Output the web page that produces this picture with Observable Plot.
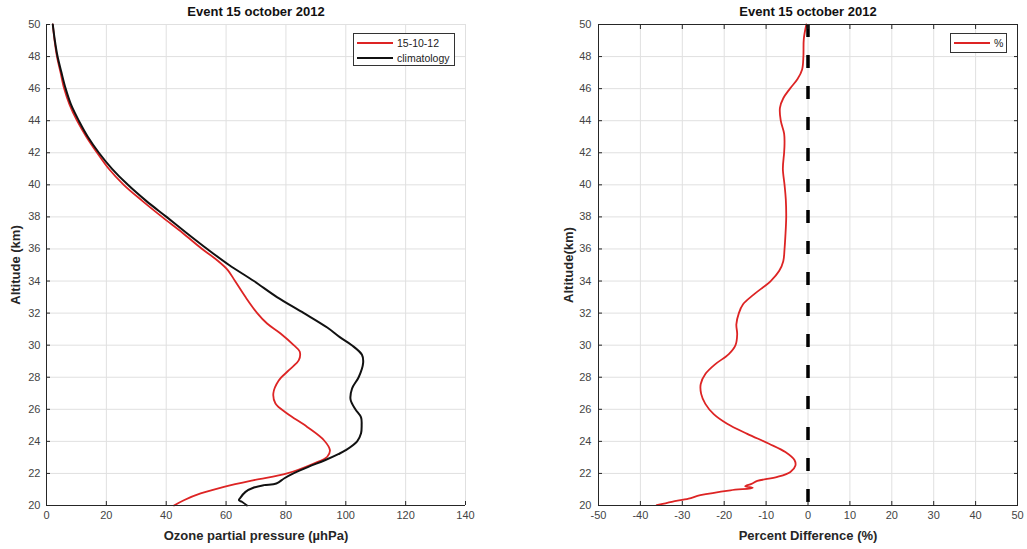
<!DOCTYPE html>
<html>
<head>
<meta charset="utf-8">
<script src="https://cdn.jsdelivr.net/npm/d3@7"></script>
<script src="https://cdn.jsdelivr.net/npm/@observablehq/plot@0.6"></script>
<style>
  html, body { margin: 0; padding: 0; background: #fff; }
  #wrap { position: relative; width: 1027px; height: 549px; overflow: hidden; background: #fff;
          font-family: "Liberation Sans", Arial, sans-serif; color: #000; }
  .panel { position: absolute; top: 0; }
  .title { position: absolute; top: 4px; font-weight: bold; font-size: 13px; transform: translateX(-50%); white-space: nowrap; color: #111; }
  .xlab { position: absolute; top: 528px; font-weight: bold; font-size: 13px; transform: translateX(-50%); white-space: nowrap; color: #262626; }
  .ylab { position: absolute; font-weight: bold; font-size: 13px; white-space: nowrap; color: #262626;
          transform: translate(-50%, -50%) rotate(-90deg); }
  .legend { position: absolute; border: 1px solid #333; background: #fff; font-size: 10.5px; color: #222; }
  .legend .row { display: flex; align-items: center; height: 15px; }
  .legend svg { display: block; margin-right: 3px; }
</style>
</head>
<body>
<div id="wrap"></div>
<script>
// ---------- data ----------
// Event profile 15-10-12 (altitude km, ozone partial pressure µhPa)
const altEvent = [20.0, 20.33, 20.75, 21.16, 21.58, 22.0, 22.62, 23.04, 23.45, 24.07, 24.9, 25.74, 26.36, 27.0, 27.8, 28.44, 29.06, 29.6, 30.0, 30.73, 31.35, 32.0, 33.0, 34.0, 34.7, 35.3, 36.0, 37.0, 38.0, 39.0, 40.0, 41.0, 42.0, 43.0, 44.0, 45.0, 46.0, 47.0, 48.0, 49.0, 50.0];
const o3Event  = [42.6, 45.9, 51.5, 59.3, 69.3, 80.4, 89.3, 93.8, 94.7, 92.7, 87.1, 80.4, 76.5, 75.8, 77.6, 81.0, 84.3, 84.6, 82.6, 78.2, 73.7, 70.4, 66.5, 63.0, 60.5, 57.0, 52.0, 45.5, 38.6, 32.0, 25.8, 20.8, 16.9, 13.3, 10.2, 7.7, 5.9, 4.7, 3.5, 2.7, 2.1];

// Climatology profile
const altClim = [20.0, 20.22, 20.33, 20.44, 20.85, 21.12, 21.27, 21.37, 21.7, 22.0, 22.41, 22.82, 23.2, 23.45, 24.0, 24.5, 25.0, 25.5, 26.0, 26.6, 27.3, 28.0, 28.9, 29.4, 30.0, 30.5, 31.1, 32.0, 33.0, 34.0, 35.0, 36.0, 37.0, 38.0, 39.0, 40.0, 41.0, 42.0, 43.0, 44.0, 45.0, 46.0, 47.0, 48.0, 49.0, 50.0];
const o3Clim  = [67.0, 65.4, 64.3, 64.6, 66.5, 69.3, 72.6, 76.8, 79.5, 82.5, 87.5, 93.0, 97.5, 100.0, 103.8, 105.1, 105.3, 105.1, 103.2, 101.6, 102.1, 104.3, 105.8, 105.4, 102.0, 98.0, 93.8, 86.0, 77.0, 69.3, 61.0, 53.7, 46.8, 40.1, 33.3, 27.2, 21.9, 17.5, 13.8, 10.8, 8.2, 6.4, 5.0, 3.7, 2.8, 2.1];

// Percent difference profile
const altPct  = [20.02, 20.23, 20.43, 20.64, 20.95, 21.10, 21.2, 21.35, 21.53, 21.78, 22.09, 22.5, 22.82, 23.33, 23.85, 24.47, 25.1, 25.7, 26.34, 26.96, 27.58, 28.2, 28.82, 29.44, 30.0, 30.68, 31.3, 32.0, 32.55, 33.17, 34.0, 34.62, 35.24, 36.0, 36.8, 38.0, 39.1, 40.0, 41.0, 42.0, 42.6, 43.2, 44.0, 44.8, 45.4, 46.0, 46.6, 47.2, 48.0, 49.1, 50.0];
const pctDiff = [-36.1, -32.5, -28.5, -25.7, -18.5, -13.2, -15.0, -13.5, -12.1, -7.3, -4.2, -3.0, -3.2, -5.4, -9.3, -14.5, -19.3, -22.5, -24.5, -25.5, -25.6, -24.5, -22.1, -18.9, -17.3, -16.9, -17.1, -16.5, -15.5, -12.9, -8.9, -6.9, -5.9, -5.6, -5.4, -5.2, -5.3, -5.6, -6.0, -5.7, -5.6, -5.7, -6.5, -6.7, -5.9, -4.3, -2.5, -1.4, -1.1, -1.0, -0.4];

// Axes / ticks
const yDomain = [20, 50];
const yTicks = [20, 22, 24, 26, 28, 30, 32, 34, 36, 38, 40, 42, 44, 46, 48, 50];
const xDomainL = [0, 140];
const xTicksL = [0, 20, 40, 60, 80, 100, 120, 140];
const xDomainR = [-50, 50];
const xTicksR = [-50, -40, -30, -20, -10, 0, 10, 20, 30, 40, 50];
const zeroLine = [0];

const titleText = "Event 15 october 2012";
const legendLeft = ["15-10-12", "climatology"];
const legendRight = ["%"];

// ---------- build ----------
const RED = "#dd2424";
const INK = "#262626";
const GRID = "#e0e0e0";
const fmt = d => String(d);   // plain hyphen-minus as in the original

const eventRows = altEvent.map((a, i) => ({alt: a, v: o3Event[i]}));
const climRows  = altClim.map((a, i) => ({alt: a, v: o3Clim[i]}));
const pctRows   = altPct.map((a, i) => ({alt: a, v: pctDiff[i]}));

const baseStyle = {fontFamily: "'Liberation Sans', Arial, sans-serif", fontSize: "11px", color: "#444", background: "transparent", overflow: "visible"};

const left = Plot.plot({
  width: 500, height: 549,
  marginLeft: 46, marginRight: 35, marginTop: 24, marginBottom: 44,
  style: baseStyle,
  x: {domain: xDomainL},
  y: {domain: yDomain},
  marks: [
    Plot.gridX(xTicksL, {stroke: GRID, strokeOpacity: 1}),
    Plot.gridY(yTicks, {stroke: GRID, strokeOpacity: 1}),
    Plot.line(eventRows, {x: "v", y: "alt", stroke: RED, strokeWidth: 1.8, curve: "catmull-rom"}),
    Plot.line(climRows, {x: "v", y: "alt", stroke: "#111", strokeWidth: 2, curve: "catmull-rom"}),
    Plot.ruleY([yDomain[0]], {stroke: INK}),
    Plot.ruleX([xDomainL[0]], {stroke: INK}),
    Plot.axisX(xTicksL, {tickSize: -4, tickPadding: 10, tickFormat: fmt, label: null, stroke: INK}),
    Plot.axisY(yTicks, {tickSize: -4, tickPadding: 10, tickFormat: fmt, label: null, stroke: INK})
  ]
});

const right = Plot.plot({
  width: 507, height: 549,
  marginLeft: 78, marginRight: 10, marginTop: 24, marginBottom: 44,
  style: baseStyle,
  x: {domain: xDomainR},
  y: {domain: yDomain},
  marks: [
    Plot.gridX(xTicksR, {stroke: GRID, strokeOpacity: 1}),
    Plot.gridY(yTicks, {stroke: GRID, strokeOpacity: 1}),
    Plot.line(pctRows, {x: "v", y: "alt", stroke: RED, strokeWidth: 1.8, curve: "catmull-rom"}),
    Plot.ruleX(zeroLine, {stroke: "#000", strokeWidth: 3.5, strokeDasharray: "13,18"}),
    Plot.frame({stroke: INK}),
    Plot.axisX(xTicksR, {tickSize: -4, tickPadding: 10, tickFormat: fmt, label: null, stroke: INK}),
    Plot.axisX(xTicksR, {anchor: "top", tickSize: -4, tickFormat: () => "", label: null, stroke: INK}),
    Plot.axisY(yTicks, {tickSize: -4, tickPadding: 11, tickFormat: fmt, label: null, stroke: INK}),
    Plot.axisY(yTicks, {anchor: "right", tickSize: -4, tickFormat: () => "", label: null, stroke: INK})
  ]
});

const wrap = document.getElementById("wrap");
left.classList.add("panel"); left.style.left = "0px";
right.classList.add("panel"); right.style.left = "520px";
wrap.appendChild(left);
wrap.appendChild(right);

function addDiv(cls, text, css) {
  const d = document.createElement("div");
  d.className = cls;
  d.textContent = text;
  Object.assign(d.style, css);
  wrap.appendChild(d);
  return d;
}
addDiv("title", titleText, {left: "256px"});
addDiv("title", titleText, {left: "808px"});
addDiv("xlab", "Ozone partial pressure (µhPa)", {left: "256px"});
addDiv("xlab", "Percent Difference (%)", {left: "808px"});
addDiv("ylab", "Altitude (km)", {left: "15px", top: "265px"});
addDiv("ylab", "Altitude(km)", {left: "568px", top: "265px"});

function legend(items, colors, css) {
  const box = document.createElement("div");
  box.className = "legend";
  Object.assign(box.style, css);
  items.forEach((t, i) => {
    const row = document.createElement("div");
    row.className = "row";
    row.innerHTML = `<svg width="38" height="4"><line x1="1" x2="37" y1="2" y2="2" stroke="${colors[i]}" stroke-width="2"/></svg><span>${t}</span>`;
    box.appendChild(row);
  });
  wrap.appendChild(box);
}
legend(legendLeft, [RED, "#111"], {left: "353px", top: "33px", width: "102px", height: "33px", padding: "1px 0 0 2px", boxSizing: "border-box"});
legend(legendRight, [RED], {left: "950px", top: "33px", width: "57px", height: "20px", padding: "1px 0 0 2px", boxSizing: "border-box"});
</script>
</body>
</html>
